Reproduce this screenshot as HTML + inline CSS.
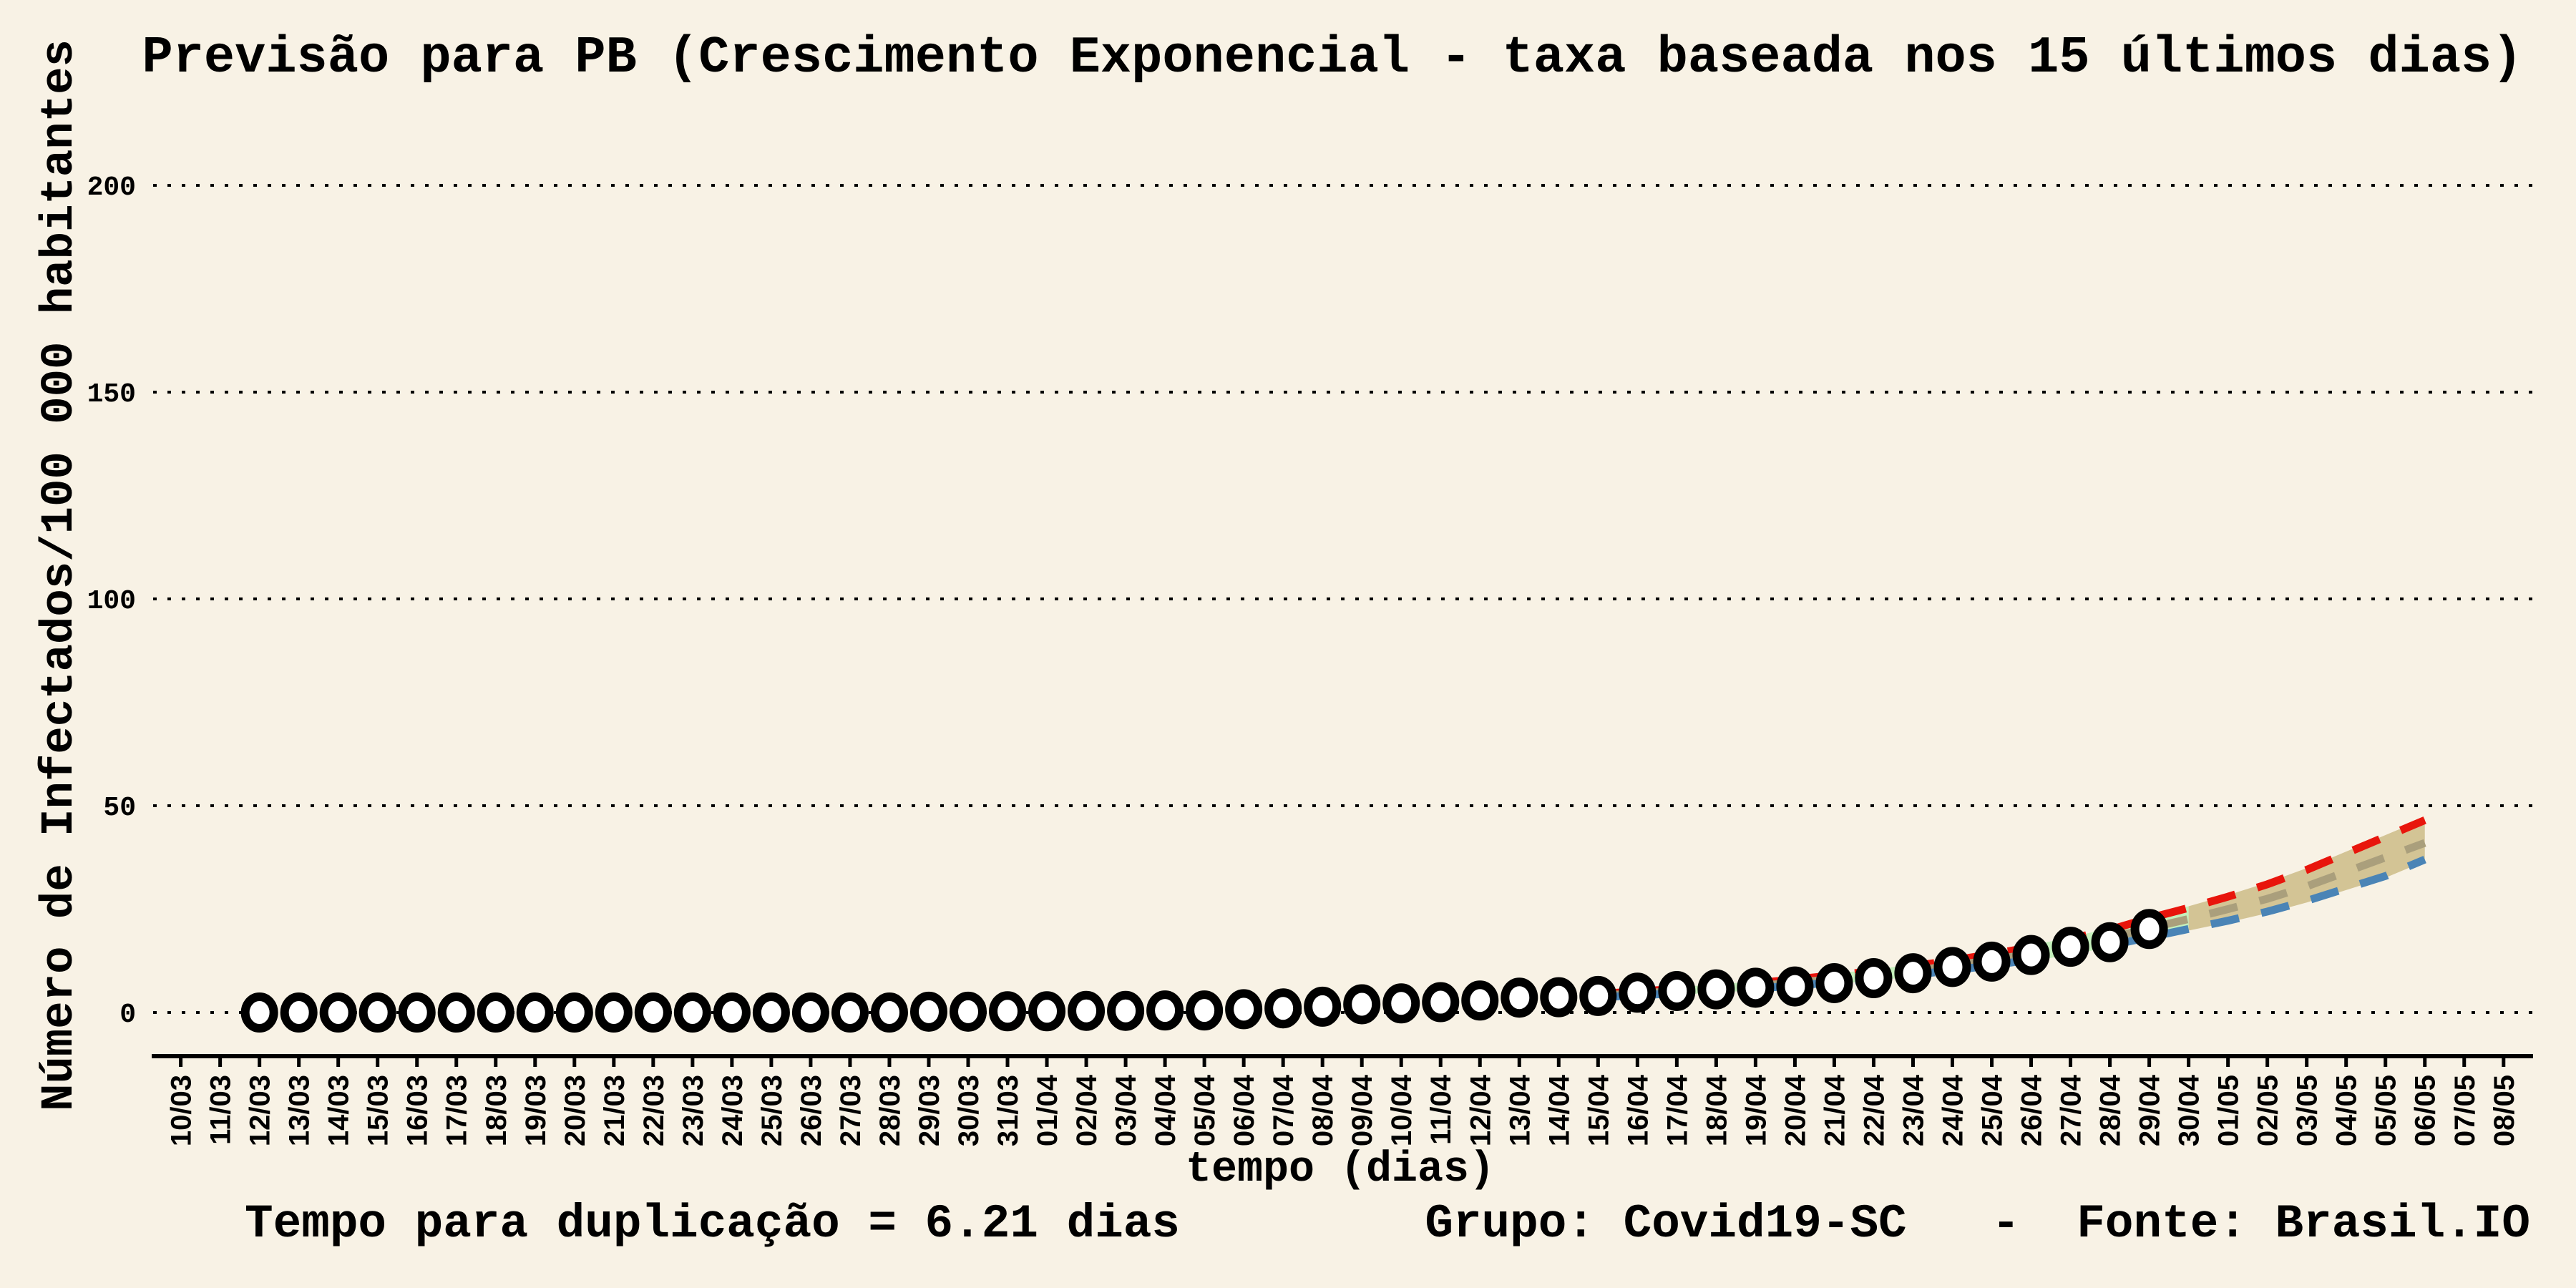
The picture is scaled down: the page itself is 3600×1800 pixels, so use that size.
<!DOCTYPE html>
<html><head><meta charset="utf-8"><style>
html,body{margin:0;padding:0;background:#f8f2e5;}
svg{display:block;}
</style></head><body>
<svg id="chart" width="3600" height="1800" viewBox="0 0 3600 1800" xmlns="http://www.w3.org/2000/svg">
<rect width="3600" height="1800" fill="#f8f2e5"/>
<text x="1862" y="100" text-anchor="middle" font-family="Liberation Mono, monospace" font-weight="bold" font-size="72">Previsão para PB (Crescimento Exponencial - taxa baseada nos 15 últimos dias)</text>
<text transform="translate(100,804) rotate(-90)" text-anchor="middle" font-family="Liberation Mono, monospace" font-weight="bold" font-size="64">Número de Infectados/100 000 habitantes</text>
<text x="1873" y="1650" text-anchor="middle" font-family="Liberation Mono, monospace" font-weight="bold" font-size="60">tempo (dias)</text>
<text x="342" y="1728" font-family="Liberation Mono, monospace" font-weight="bold" font-size="66">Tempo para duplicação = 6.21 dias</text>
<text x="3536" y="1728" text-anchor="end" font-family="Liberation Mono, monospace" font-weight="bold" font-size="66" xml:space="preserve">Grupo: Covid19-SC   -  Fonte: Brasil.IO</text>
<g id="grid"></g><g id="axes"></g><g id="band"></g><g id="lines"></g><g id="points"></g>
</svg>
<script>
const yTicks = [0, 50, 100, 150, 200];
const dates = ["10/03","11/03","12/03","13/03","14/03","15/03","16/03","17/03","18/03","19/03","20/03","21/03","22/03","23/03","24/03","25/03","26/03","27/03","28/03","29/03","30/03","31/03","01/04","02/04","03/04","04/04","05/04","06/04","07/04","08/04","09/04","10/04","11/04","12/04","13/04","14/04","15/04","16/04","17/04","18/04","19/04","20/04","21/04","22/04","23/04","24/04","25/04","26/04","27/04","28/04","29/04","30/04","01/05","02/05","03/05","04/05","05/05","06/05","07/05","08/05"];
// observed values starting at 12/03 (through 29/04)
const obsStart = 2;
const observed = [0,0,0,0,0,0,0,0,0,0,0,0,0,0,0,0,0,0.2,0.2,0.3,0.3,0.4,0.4,0.5,0.5,0.8,1,1.4,2,2.2,2.5,2.9,3.6,3.7,4,4.8,5.2,5.6,6,6.3,7.1,8.3,9.5,11,12.3,13.9,15.9,17,20.2];
// forecast series starting at 15/04
const fcStart = 36;
const fcMid   = [4.1,4.6,5.2,5.8,6.4,7.2,8.1,9,10.1,11.3,12.7,14.2,16,18,20.4,22.6,25,27.5,30.5,34,37.5,41];
const fcUpper = [4.5,5.1,5.7,6.4,7.1,8,9,10,11.2,12.6,14.1,15.8,17.8,20,22.8,25.3,28,31,34.5,38.5,42.5,46.5];
const fcLower = [3.7,4.1,4.7,5.2,5.8,6.5,7.3,8.1,9.1,10.2,11.4,12.8,14.4,16.2,18.2,20.2,22.2,24.4,27,30,33,37];
const bandSplit = 51;

const NS="http://www.w3.org/2000/svg";
const X0=252.6, DX=55.02, Y0=1415, KY=5.78;
const xs=i=>X0+i*DX, ys=v=>Y0-v*KY;
function mk(tag,attrs,parent){const e=document.createElementNS(NS,tag);for(const k in attrs)e.setAttribute(k,attrs[k]);parent.appendChild(e);return e;}
const grid=document.getElementById('grid'),axes=document.getElementById('axes'),band=document.getElementById('band'),lines=document.getElementById('lines'),pts=document.getElementById('points');
yTicks.forEach(t=>{
  const l=mk('line',{x1:214,x2:3540,y1:ys(t),y2:ys(t),stroke:'#000','stroke-width':4,'stroke-dasharray':'5 15'},grid);
  
  
  const tx=mk('text',{x:190,y:ys(t)+13,'text-anchor':'end','font-family':'Liberation Mono, monospace','font-weight':'bold','font-size':38},grid);
  tx.textContent=t;
  
  
});
const ax=mk('line',{x1:212,x2:3540,y1:1476,y2:1476,stroke:'#000','stroke-width':6},axes);


dates.forEach((d,i)=>{
  const tk=mk('line',{x1:xs(i),x2:xs(i),y1:1476,y2:1491,stroke:'#000','stroke-width':5},axes);
  
  
  const tx=mk('text',{transform:`translate(${xs(i)+14},1502) rotate(-90)`,'text-anchor':'end','font-family':'Liberation Sans, sans-serif','font-weight':'bold','font-size':40},axes);
  tx.textContent=d;
  
  
});
function bandPath(a,b){
  let top=[],bot=[];
  for(let i=a;i<=b;i++){const k=i-fcStart;top.push(`${xs(i)},${ys(fcUpper[k]+0.4)}`);bot.unshift(`${xs(i)},${ys(fcLower[k]-0.4)}`);}
  return 'M'+top.join('L')+'L'+bot.join('L')+'Z';
}
const last=fcStart+fcMid.length-1;
const g1=mk('path',{d:bandPath(fcStart,bandSplit),fill:'#c4efbb'},band);


const g2=mk('path',{d:bandPath(bandSplit,last),fill:'#d3c495'},band);


[[fcUpper,'#e8150c','upper-forecast-line'],[fcMid,'#aa9f7c','mid-forecast-line'],[fcLower,'#4a84b6','lower-forecast-line']].forEach(([arr,c,n])=>{
  const d='M'+arr.map((v,k)=>`${xs(fcStart+k)},${ys(v)}`).join('L');
  const p=mk('path',{d,fill:'none',stroke:c,'stroke-width':11,'stroke-dasharray':'40 32'},lines);
  
  
});
observed.forEach((v,k)=>{
  const c=mk('ellipse',{cx:xs(obsStart+k),cy:ys(v),rx:20,ry:22,fill:'#fff',stroke:'#000','stroke-width':12},pts);
  
  
});
</script>
</body></html>
